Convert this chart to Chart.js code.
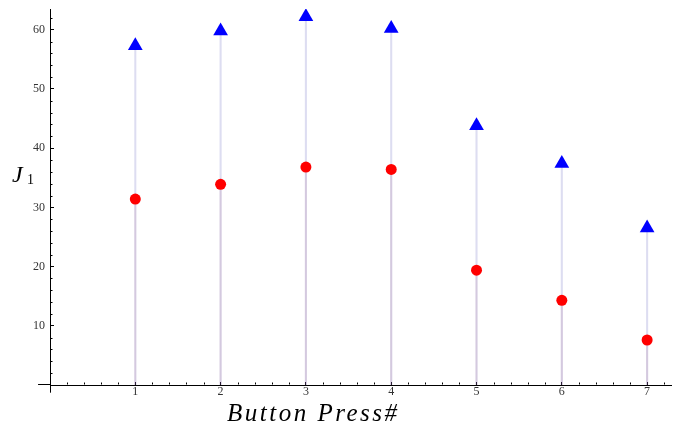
<!DOCTYPE html>
<html>
<head>
<meta charset="utf-8">
<script src="https://cdn.jsdelivr.net/npm/chart.js@4.4.0/dist/chart.umd.min.js"></script>
<style>
    html, body { margin: 0; padding: 0; background: #fff; }
    #contenedor { width: 673px; height: 428px; position: relative; }
</style>
</head>
<body>
<div id="contenedor"><canvas id="grafico"></canvas></div>
<script>
// Datos
const pulsaciones = [1, 2, 3, 4, 5, 6, 7];
const serieAzul = [57.3, 59.8, 62.2, 60.2, 43.8, 37.4, 26.5];
const serieRoja = [31.4, 33.9, 36.8, 36.4, 19.4, 14.3, 7.6];
const ticksX = [1, 2, 3, 4, 5, 6, 7];
const ticksY = [10, 20, 30, 40, 50, 60];

const puntos = serie => pulsaciones.map((p, i) => ({ x: p, y: serie[i] }));

// Sin relleno extra de las etiquetas: el área queda donde dice layout.padding
function sinRelleno(s) {
    s.paddingTop = 0;
    s.paddingBottom = 0;
    s.paddingLeft = 0;
    s.paddingRight = 0;
}

// Ticks menores, prolongación de ejes y títulos (estilo Mathematica)
const ejesExtra = {
    id: 'ejesExtra',
    afterDraw(chart) {
        const { ctx, scales: { x, y } } = chart;
        const x0 = Math.round(x.getPixelForValue(0)) + 0.5;
        const y0 = Math.round(y.getPixelForValue(0)) - 0.5;
        ctx.save();
        ctx.strokeStyle = '#000';
        ctx.lineWidth = 1;
        ctx.beginPath();
        // los ejes sobresalen un poco del cruce
        ctx.moveTo(x.getPixelForValue(-0.14), y0);
        ctx.lineTo(x0, y0);
        ctx.moveTo(x0, y0);
        ctx.lineTo(x0, y.getPixelForValue(-1.3));
        // menores en x cada 0.2
        for (let i = 1; i * 0.2 <= x.max; i++) {
            if (i % 5 === 0) continue;
            const px = Math.round(x.getPixelForValue(i * 0.2)) + 0.5;
            ctx.moveTo(px, y0);
            ctx.lineTo(px, y0 - 2);
        }
        // menores en y cada 2
        for (let v = 2; v <= y.max; v += 2) {
            if (v % 10 === 0) continue;
            const py = Math.round(y.getPixelForValue(v)) + 0.5;
            ctx.moveTo(x0, py);
            ctx.lineTo(x0 + 2, py);
        }
        ctx.stroke();

        ctx.fillStyle = '#000';
        ctx.textBaseline = 'alphabetic';
        ctx.textAlign = 'left';
        ctx.font = 'italic 24px "Liberation Serif"';
        ctx.fillText('J', 12, 182);
        ctx.font = '14px "Liberation Serif"';
        ctx.fillText('1', 27, 184);

        ctx.font = 'italic 25px "Liberation Serif"';
        ctx.letterSpacing = '2.5px';
        ctx.fillText('Button Press#', 227, 421);
        ctx.restore();
    }
};

const fuenteTicks = { family: 'Liberation Serif', size: 12 };

new Chart(document.getElementById('grafico'), {
    type: 'scatter',
    data: {
        datasets: [
            {
                type: 'bar',
                label: 'tallo azul',
                data: puntos(serieAzul),
                backgroundColor: 'rgba(100,100,190,0.22)',
                borderWidth: 0,
                barThickness: 1.4,
                grouped: false,
                order: 3
            },
            {
                type: 'bar',
                label: 'tallo rojo',
                data: puntos(serieRoja),
                backgroundColor: 'rgba(160,90,120,0.15)',
                borderWidth: 0,
                barThickness: 1.4,
                grouped: false,
                order: 2
            },
            {
                label: 'azul',
                data: puntos(serieAzul),
                pointStyle: 'triangle',
                pointRadius: 8.5,
                pointBorderWidth: 0,
                backgroundColor: '#0000ff',
                order: 1
            },
            {
                label: 'rojo',
                data: puntos(serieRoja),
                pointStyle: 'circle',
                pointRadius: 5.5,
                pointBorderWidth: 0,
                backgroundColor: '#ff0000',
                order: 0
            }
        ]
    },
    options: {
        responsive: true,
        maintainAspectRatio: false,
        animation: false,
        layout: { autoPadding: false, padding: { left: 0, right: 2, top: 9, bottom: 0 } },
        plugins: {
            legend: { display: false },
            tooltip: { enabled: false }
        },
        scales: {
            x: {
                type: 'linear',
                offset: false,
                min: 0,
                max: 7.28,
                afterFit: s => { s.height = 43; sinRelleno(s); },
                afterBuildTicks: s => { s.ticks = ticksX.map(v => ({ value: v })); },
                grid: { offset: false, drawOnChartArea: false, tickLength: -3, tickColor: '#000' },
                border: { color: '#000', width: 1 },
                ticks: { font: fuenteTicks, color: '#333', padding: 3, maxRotation: 0, autoSkip: false }
            },
            y: {
                type: 'linear',
                min: 0,
                max: 63.5,
                afterFit: s => { s.width = 50; sinRelleno(s); },
                afterBuildTicks: s => { s.ticks = ticksY.map(v => ({ value: v })); },
                grid: { drawOnChartArea: false, tickLength: -4, tickColor: '#000' },
                border: { color: '#000', width: 1 },
                ticks: { font: fuenteTicks, color: '#333', padding: 9 }
            }
        }
    },
    plugins: [ejesExtra]
});
</script>
</body>
</html>
